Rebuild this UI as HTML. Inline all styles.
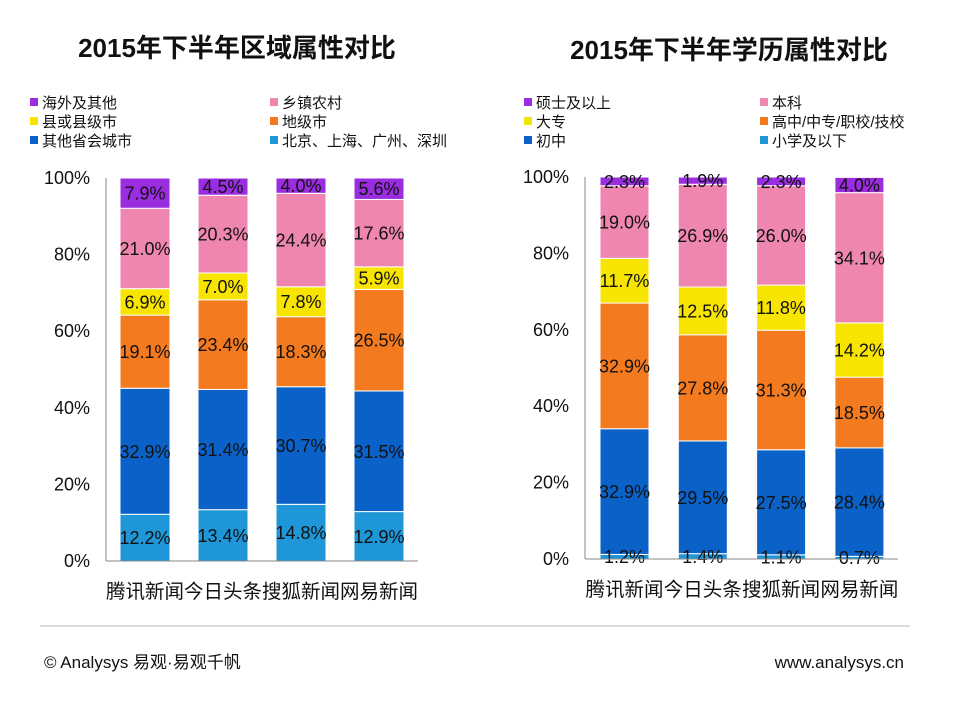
<!DOCTYPE html>
<html><head><meta charset="utf-8">
<style>
body{margin:0;background:#fff;}
svg{display:block;font-family:"Liberation Sans","Noto Sans CJK SC",sans-serif;}
</style></head>
<body>
<svg id="chart" width="960" height="720" viewBox="0 0 960 720" xmlns="http://www.w3.org/2000/svg">
<text x="237" y="57" text-anchor="middle" font-size="26" font-weight="bold" fill="#111">2015年下半年区域属性对比</text>
<text x="729" y="59" text-anchor="middle" font-size="26" font-weight="bold" fill="#111">2015年下半年学历属性对比</text>
<g id="left"></g>
<g id="right"></g>
<line x1="40" y1="626" x2="910" y2="626" stroke="#bbb" stroke-width="1"/>
<text x="44" y="668" font-size="17" fill="#111">© Analysys 易观·易观千帆</text>
<text x="904" y="668" text-anchor="end" font-size="17" fill="#111">www.analysys.cn</text>
</svg>
<script>
const categories = ['腾讯新闻','今日头条','搜狐新闻','网易新闻'];
const yTicks = [0,20,40,60,80,100];
const leftSeriesNames = ['北京、上海、广州、深圳','其他省会城市','地级市','县或县级市','乡镇农村','海外及其他'];
const leftTier1 = [12.2,13.4,14.8,12.9];
const leftCapital = [32.9,31.4,30.7,31.5];
const leftPrefecture = [19.1,23.4,18.3,26.5];
const leftCounty = [6.9,7.0,7.8,5.9];
const leftRural = [21.0,20.3,24.4,17.6];
const leftOverseas = [7.9,4.5,4.0,5.6];
const rightSeriesNames = ['小学及以下','初中','高中/中专/职校/技校','大专','本科','硕士及以上'];
const rightPrimary = [1.2,1.4,1.1,0.7];
const rightJunior = [32.9,29.5,27.5,28.4];
const rightSenior = [32.9,27.8,31.3,18.5];
const rightCollege = [11.7,12.5,11.8,14.2];
const rightBachelor = [19.0,26.9,26.0,34.1];
const rightMaster = [2.3,1.9,2.3,4.0];
const colors = ['#1e96d8','#0a62c8','#f47a20','#f7e400','#ef86b0','#9b2de0'];

const NS='http://www.w3.org/2000/svg';
function mk(parent,tag,attrs,text){const e=document.createElementNS(NS,tag);for(const k in attrs)e.setAttribute(k,attrs[k]);if(text!==undefined)e.textContent=text;parent.appendChild(e);return e;}

function drawChart(gId,prefix,cfg,series,names){
  const g=document.getElementById(gId);
  const y=v=>cfg.y0-(cfg.y0-cfg.y100)*v/100;
  const x=i=>cfg.bx0+i*cfg.step;
  const legOrder=[5,4,3,2,1,0];
  legOrder.forEach((si,k)=>{
    const col=k%2,row=Math.floor(k/2);
    const lx=cfg.legX[col],ly=103+row*19;
    const r=mk(g,'rect',{x:lx,y:ly-5,width:8,height:8,fill:colors[si]});
    
    
    const t=mk(g,'text',{x:lx+12,y:ly+5,'font-size':15,fill:'#111'},names[si]);
    
    
  });
  yTicks.forEach(v=>{
    const t=mk(g,'text',{x:cfg.axX-16,y:y(v)+6,'text-anchor':'end','font-size':18,fill:'#111'},v+'%');
    
    
  });
  const barLayer=mk(g,'g',{});
  
  
  const labelLayer=mk(g,'g',{});
  
  
  categories.forEach((c,i)=>{
    let acc=0;
    series.forEach((arr,si)=>{
      const v=arr[i];
      const r=mk(barLayer,'rect',{x:x(i),y:y(acc+v),width:cfg.bw,height:y(acc)-y(acc+v),fill:colors[si],stroke:'#fff','stroke-width':1});
      
      
      const t=mk(labelLayer,'text',{x:x(i)+cfg.bw/2,y:y(acc+v/2)+6.5,'text-anchor':'middle','font-size':18,fill:'#111'},v.toFixed(1)+'%');
      
      
      acc+=v;
    });
    const t=mk(g,'text',{x:x(i)+cfg.bw/2,y:cfg.y0+37,'text-anchor':'middle','font-size':19.5,fill:'#111'},c);
    
    
  });
  const a=mk(g,'line',{x1:cfg.axX,y1:cfg.y100,x2:cfg.axX,y2:cfg.y0,stroke:'#888'});
  
  
  const b=mk(g,'line',{x1:cfg.axX,y1:cfg.y0,x2:cfg.axEnd,y2:cfg.y0,stroke:'#888'});
  
  
}
drawChart('left','left',{y0:561,y100:178,axX:106,axEnd:418,bx0:120,step:78,bw:50,legX:[30,270]},
  [leftTier1,leftCapital,leftPrefecture,leftCounty,leftRural,leftOverseas],leftSeriesNames);
drawChart('right','right',{y0:559,y100:177,axX:585,axEnd:898,bx0:600,step:78.3,bw:49,legX:[524,760]},
  [rightPrimary,rightJunior,rightSenior,rightCollege,rightBachelor,rightMaster],rightSeriesNames);
</script>
</body></html>
